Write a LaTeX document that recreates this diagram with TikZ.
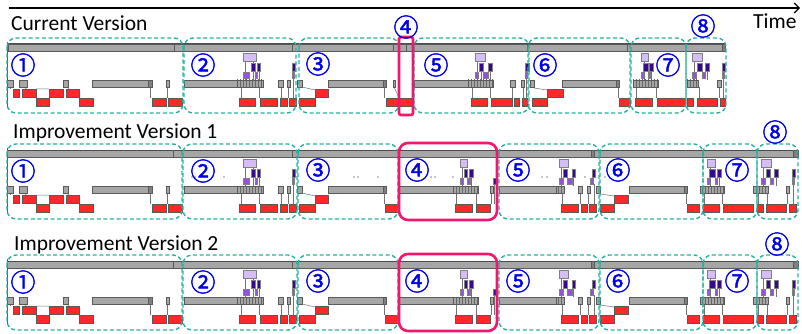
\documentclass[tikz,border=0pt]{standalone}
\usepackage{fontspec}
\setmainfont{Carlito}
\newfontfamily\circfont[FakeBold=1.6]{Noto Sans CJK JP}
\usetikzlibrary{arrows.meta,patterns}
\definecolor{tealc}{RGB}{38,176,158}
\definecolor{pinkc}{RGB}{240,24,110}
\definecolor{gfillc}{RGB}{166,166,166}
\definecolor{glinec}{RGB}{90,90,90}
\definecolor{redc}{RGB}{255,40,40}
\definecolor{lpc}{RGB}{212,190,245}
\definecolor{dpc}{RGB}{55,10,140}
\definecolor{mpc}{RGB}{150,80,225}
\definecolor{numc}{RGB}{0,0,235}
\tikzset{
 gbar/.style={fill=gfillc, draw=glinec, line width=0.6pt},
 gend/.style={fill=black!50, draw=glinec, line width=0.6pt},
 rbar/.style={fill=redc, draw=black!65, line width=0.5pt},
 lpbar/.style={fill=lpc, draw=black!50, line width=0.5pt},
 dpbar/.style={fill=dpc, draw=black!50, line width=0.4pt},
 mpbar/.style={fill=mpc, draw=black!50, line width=0.4pt},
 cline/.style={draw=black!55, line width=0.5pt},
 segbox/.style={draw=tealc, line width=1.4pt, dash pattern=on 4pt off 2.6pt, rounded corners=9pt},
 hlwide/.style={draw=pinkc, line width=2.6pt, rounded corners=9pt},
 hlthin/.style={draw=pinkc, line width=2.6pt, rounded corners=2pt},
 num/.style={text=numc, font=\circfont\fontsize{25}{25}\selectfont, inner sep=0pt},
 title/.style={font=\fontsize{21.5}{22}\selectfont, anchor=base west, inner sep=0pt},
}
\newcommand\zGB[2]{\filldraw[gbar] (#1,80) rectangle (#2,87);}
\newcommand\zGE[2]{\filldraw[gend] (#1,80) rectangle (#2,87);}
\newcommand\zRU[2]{\filldraw[rbar] (#1,89) rectangle (#2,97);}
\newcommand\zRL[2]{\filldraw[rbar] (#1,98) rectangle (#2,106);}
\newcommand\zLP[2]{\filldraw[lpbar] (#1,53) rectangle (#2,61);}
\newcommand\zDP[2]{\filldraw[dpbar] (#1,63) rectangle (#2,71);}
\newcommand\zMP[2]{\filldraw[mpbar] (#1,72) rectangle (#2,78);}
\newcommand\zTK[2]{\fill[gfillc] (#1,80) rectangle (#2,87);
 \fill[pattern=vertical lines, pattern color=black!60] (#1,80) rectangle (#2,87);
 \draw[glinec, line width=0.6pt] (#1,80) rectangle (#2,87);}
\newcommand\zCL[3]{\draw[cline] (#1,#2) -- (#1,#3);}
\newcommand\zTop[2]{\filldraw[gbar] (#1,44) rectangle (#2,51); \draw[black!70, line width=1pt] (#1,44) -- (#2,44);}
\newcommand\zDiv[1]{\draw[glinec, line width=0.9pt] (#1,44) -- (#1,51);}
\newcommand\zAxis{\draw[glinec, line width=0.8pt] (7,42) -- (7,108);}
% segment 1 (all rows)
\newcommand\zSegA{%
 \draw[cline] (24,87)--(36,98) (67,87)--(79,98) (36,89)--(49,89);
 \zCL{10}{87}{89}\zCL{150}{87}{98}\zCL{167}{87}{98}
 \zGB{7}{13}\zGB{19}{27}\zGB{63}{68}\zGB{92}{152}\zGE{148}{152}\zGB{166}{169}
 \zRU{13}{19}\zRU{22}{36}\zRU{49}{63}\zRU{66}{79}
 \zRL{36}{49}\zRL{79}{93}\zRL{152}{166}\zRL{168}{182}}
% segment 2 (all rows)
\newcommand\zSegB{%
 \zCL{241}{87}{98}\zCL{245}{61}{80}\zCL{253}{61}{80}\zCL{259}{71}{98}\zCL{281}{87}{98}\zCL{288}{87}{98}\zCL{293}{78}{98}
 \zGB{184}{237}\zTK{237}{263}\zGB{278}{283}\zGB{287}{290}
 \zLP{243}{256}\zDP{251}{255}\zDP{257}{260}\zMP{243}{249}\zMP{255}{257}
 \zDP{292}{295}\zMP{292}{294}
 \zRL{239}{255}\zRL{260}{277}\zRL{280}{287}\zRL{289}{296}}
% segment 3 common
\newcommand\zSegC{%
 \draw[cline] (302,87)--(315,90);
 \zCL{384}{87}{98}
 \zGB{297}{302}\zRU{315}{328}\zRL{299}{315}\zGB{328}{386}\zGE{383}{386}}
% rows 2 and 3, segments 4 to 8
\newcommand\zImproved{%
 \zCL{456}{87}{98}\zCL{476}{87}{98}\zCL{491}{87}{98}\zCL{462}{60}{80}\zCL{471}{69}{80}\zCL{494}{77}{98}
 \zGB{399}{453}\zTK{453}{478}\zGB{490}{493}
 \zLP{460}{467}\zDP{464}{467}\zDP{469}{473}\zMP{460}{463}\zMP{467}{470}
 \filldraw[dpbar] (493,72) rectangle (496,78);
 \zRL{455}{472}\zRL{476}{490}
 \zCL{562}{87}{98}\zCL{580}{87}{98}\zCL{588}{87}{98}\zCL{594}{78}{98}\zCL{561}{61}{80}\zCL{573}{71}{80}
 \zGB{499}{556}\zTK{556}{564}\zGB{578}{582}\zGB{587}{590}
 \zLP{559}{568}\zDP{563}{567}\zDP{572}{575}\zMP{559}{563}\zMP{567}{572}
 \zDP{592}{595}\zMP{590}{593}
 \zRL{561}{578}\zRL{581}{587}\zRL{589}{596}
 \draw[cline] (600,88)--(614,90); \zCL{686}{87}{98}
 \zGB{596}{600}\zRU{614}{628}\zRL{600}{614}\zGB{629}{687}\zGE{684}{687}\zRL{687}{699}
 \zCL{704}{87}{98}\zCL{722}{87}{98}\zCL{710}{60}{80}\zCL{719}{69}{80}
 \zTK{700}{724}\zLP{707}{715}\zDP{709}{715}\zDP{717}{721}\zMP{707}{709}\zMP{715}{717}
 \zRL{703}{719}\zRL{723}{753}
 \zCL{758}{87}{98}\zCL{767}{87}{98}\zCL{787}{87}{98}\zCL{793}{78}{98}\zCL{763}{60}{80}\zCL{776}{69}{80}
 \zTK{753}{768}\zLP{761}{771}\zDP{766}{770}\zDP{774}{778}\zMP{761}{765}\zMP{770}{773}
 \zGB{786}{789}\zDP{792}{795}\zMP{792}{794}
 \zRL{757}{763}\zRL{766}{786}\zRL{789}{796}}
\newcommand\zImprovedTop{%
 \zTop{7}{798}\zDiv{173}\zDiv{292}\filldraw[gend] (591,44) rectangle (594,51);
 \filldraw[gend] (793,44) rectangle (798,51);}
\newcommand\zImprovedBoxes{%
 \draw[segbox] (7,38) rectangle (182,113);
 \draw[segbox] (183,38) rectangle (297,113);
 \draw[segbox] (298,38) rectangle (398,113);
 \draw[segbox] (499,38) rectangle (599,113);
 \draw[segbox] (600,38) rectangle (703,113);
 \draw[segbox] (703,38) rectangle (757,113);
 \draw[segbox] (757,38) rectangle (798,113);
 \draw[hlwide] (399,37) rectangle (497,114);}
\begin{document}
\begin{tikzpicture}[x=1pt,y=-1pt]
\useasboundingbox (0,0) rectangle (802,334);
% time axis
\coordinate (tstart) at (9,8);
\coordinate (tend) at (800,8);
\draw[line width=1.2pt, -{Straight Barb[length=5pt,width=10pt]}] (tstart) -- (tend);
\node[title] (time) at (753,29) {Time};
% ---------- row 1 ----------
\node[title] (t1) at (11,31) {Current Version};
\zTop{8}{725}\zDiv{174}\zDiv{292}\zDiv{393}\zDiv{406}\zDiv{527}\zDiv{627}
\filldraw[gend] (722,44) rectangle (725,51);
\zAxis
\zSegA
\zSegB
\zSegC
\draw[cline] (394,87)--(399,98);
\zGB{393}{395}\zRL{386}{412}
% seg 5
\zCL{472}{87}{98}\zCL{490}{87}{98}\zCL{512}{87}{98}\zCL{523}{87}{98}\zCL{477}{61}{80}\zCL{481}{71}{80}\zCL{490}{71}{80}\zCL{526}{78}{98}
\zGB{414}{468}\zTK{468}{493}
\zLP{475}{485}\zDP{479}{483}\zDP{488}{492}\zMP{475}{478}\zMP{483}{488}
\zGB{510}{515}\zGB{521}{524}\zDP{525}{529}\zMP{525}{527}
\zRL{471}{487}\zRL{491}{512}\zRL{514}{519}\zRL{522}{527}
% seg 6
\draw[cline] (534,88)--(547,90); \zCL{618}{87}{98}
\zGB{530}{534}\zRU{547}{563}\zRL{532}{547}\zGB{562}{619}\zGE{616}{619}\zRL{619}{630}
% seg 7
\zCL{636}{87}{98}\zCL{656}{87}{98}\zCL{644}{61}{80}\zCL{651}{71}{80}
\zTK{633}{658}\zLP{641}{648}\zDP{643}{648}\zDP{649}{653}\zMP{641}{643}\zMP{648}{650}
\zRL{635}{652}\zRL{657}{685}
% seg 8
\zCL{699}{87}{98}\zCL{719}{87}{98}\zCL{694}{61}{80}\zCL{707}{71}{80}\zCL{723}{78}{98}
\zTK{687}{698}\zLP{692}{702}\zDP{697}{702}\zDP{705}{709}\zMP{692}{696}\zMP{702}{705}
\zGB{717}{721}\zDP{722}{725}\zMP{722}{724}
\zRL{687}{693}\zRL{697}{717}\zRL{720}{725}
% boxes row 1
\draw[segbox] (7,38) rectangle (183,113);
\draw[segbox] (184,38) rectangle (296,113);
\draw[segbox] (299,38) rectangle (399,113);
\draw[segbox] (414,38) rectangle (529,113);
\draw[segbox] (528,38) rectangle (630,113);
\draw[segbox] (631,38) rectangle (686,113);
\draw[segbox] (686,38) rectangle (726,113);
\draw[hlthin] (399,37) rectangle (413,115);
\node[num] (a1) at (23,65) {①};
\node[num] (a2) at (203,65) {②};
\node[num] (a3) at (318,64) {③};
\node[num] (a4) at (406,27) {④};
\node[num] (a5) at (436,65) {⑤};
\node[num] (a6) at (545,65) {⑥};
\node[num] (a7) at (668,65) {⑦};
\node[num] (a8) at (703,26) {⑧};
% ---------- row 2 ----------
\node[title] (t2) at (13,139) {Improvement Version 1};
\begin{scope}[shift={(0,106)}]
\zImprovedTop
\zAxis
\zSegA
\zSegB
\zSegC
\zRL{385}{398}
\zImproved
\foreach \dx in {192,195,224,354,358,378,431,435,453,542,547,585,605}
  \fill[black!45] (\dx,71) circle (0.8);
\zImprovedBoxes
\node[num] (b1) at (23,65) {①};
\node[num] (b2) at (203,65) {②};
\node[num] (b3) at (318,64) {③};
\node[num] (b4) at (417,64) {④};
\node[num] (b5) at (518,64) {⑤};
\node[num] (b6) at (618,64) {⑥};
\node[num] (b7) at (737,64) {⑦};
\node[num] (b8) at (775,26) {⑧};
\end{scope}
% ---------- row 3 ----------
\node[title] (t3) at (14,250) {Improvement Version 2};
\begin{scope}[shift={(0,217)}]
\zImprovedTop
\zAxis
\zSegA
\zSegB
\zSegC
\zRL{385}{398}
\zImproved
\zImprovedBoxes
\node[num] (c1) at (23,65) {①};
\node[num] (c2) at (203,65) {②};
\node[num] (c3) at (318,64) {③};
\node[num] (c4) at (417,64) {④};
\node[num] (c5) at (518,64) {⑤};
\node[num] (c6) at (618,64) {⑥};
\node[num] (c7) at (737,64) {⑦};
\node[num] (c8) at (777,27) {⑧};
\end{scope}
\end{tikzpicture}
\end{document}
